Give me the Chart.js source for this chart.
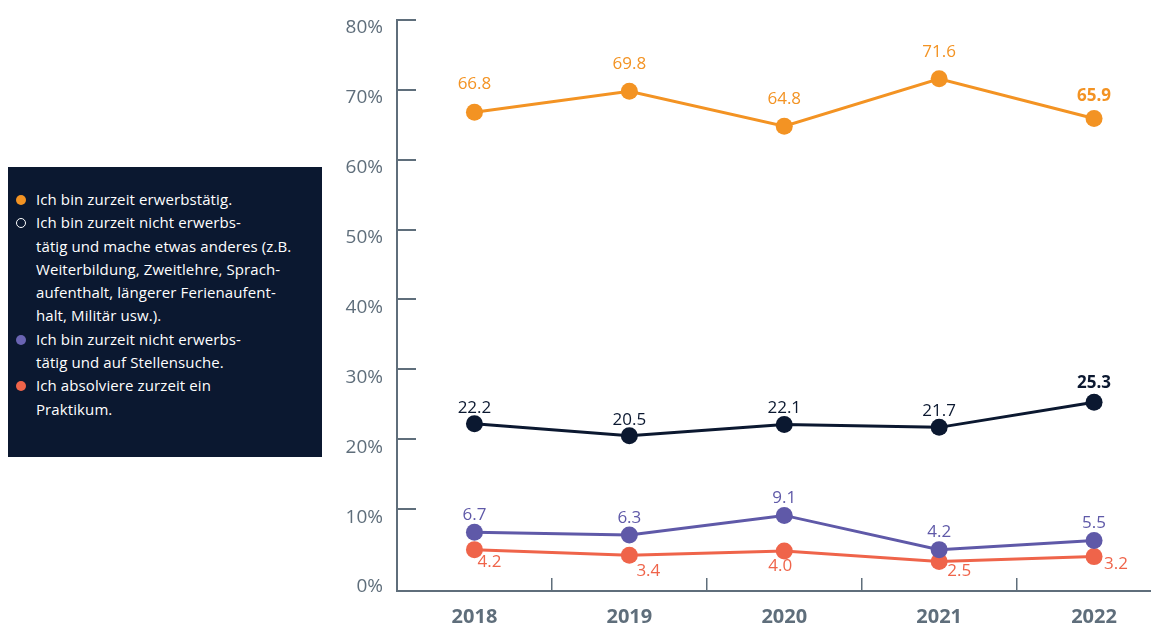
<!DOCTYPE html>
<html>
<head>
<meta charset="utf-8">
<script src="https://cdn.jsdelivr.net/npm/chart.js@4.4.1/dist/chart.umd.min.js"></script>
<style>
  html, body { margin: 0; padding: 0; background: #ffffff; overflow: hidden; width: 1151px; height: 623px; }
  #wrap { position: absolute; left: 0; top: 0; width: 1180px; height: 623px; }
  #legend {
    position: absolute; left: 8px; top: 167px; width: 314px; height: 290px;
    background: #0b1830; box-sizing: border-box; padding: 21px 0 0 0;
    font-family: "Open Sans", sans-serif; font-size: 15px; letter-spacing: 0.1px; color: #ffffff; line-height: 23.3px;
  }
  .item { position: relative; padding-left: 28px; white-space: nowrap; }
  .dot { position: absolute; left: 8px; top: 7px; width: 10px; height: 10px; border-radius: 50%; box-sizing: border-box; }
</style>
</head>
<body>
<div id="wrap"><canvas id="c" width="1180" height="623"></canvas></div>
<div id="legend"></div>
<script>
const categories = ['2018', '2019', '2020', '2021', '2022'];
const seriesNames = [
  'Ich bin zurzeit erwerbstätig.',
  'Ich bin zurzeit nicht erwerbs-<br>tätig und mache etwas anderes (z.B.<br>Weiterbildung, Zweitlehre, Sprach-<br>aufenthalt, längerer Ferienaufent-<br>halt, Militär usw.).',
  'Ich bin zurzeit nicht erwerbs-<br>tätig und auf Stellensuche.',
  'Ich absolviere zurzeit ein<br>Praktikum.'
];
const erwerbstaetig = [66.8, 69.8, 64.8, 71.6, 65.9];
const etwasAnderes = [22.2, 20.5, 22.1, 21.7, 25.3];
const stellensuche = [6.7, 6.3, 9.1, 4.2, 5.5];
const praktikum = [4.2, 3.4, 4.0, 2.5, 3.2];
const yTickValues = [0, 10, 20, 30, 40, 50, 60, 70, 80];

const colors = ['#f39323', '#0b1830', '#5f59a8', '#ef644a'];
const legendDot = [
  'background:#f39323;',
  'border:1.5px solid #ffffff;',
  'background:#6a64b3;',
  'background:#ef644a;'
];
const axisColor = '#5f6e7b';

// legend
const lg = document.getElementById('legend');
seriesNames.forEach((n, i) => {
  const d = document.createElement('div');
  d.className = 'item';
  d.innerHTML = '<span class="dot" style="' + legendDot[i] + '"></span>' + n;
  lg.appendChild(d);
});

// label placement (offsets relative to each point, per series)
const labelOffsets = [
  [[0, -28], [0, -27], [0, -27], [0, -27], [0, -22]],
  [[0, -16], [0, -16], [0, -16], [0, -16], [0, -19]],
  [[0, -17], [0, -17], [0, -17], [0, -17], [0, -17]],
  [[15, 13], [19, 16], [-4, 15], [20, 10], [22, 8]]
];
const boldLast = [true, true, false, false];

const labelPlugin = {
  id: 'valueLabels',
  afterDatasetsDraw(chart) {
    const ctx = chart.ctx;
    ctx.save();
    ctx.textAlign = 'center';
    ctx.textBaseline = 'middle';
    chart.data.datasets.forEach((ds, di) => {
      const meta = chart.getDatasetMeta(di);
      meta.data.forEach((pt, i) => {
        const bold = boldLast[di] && i === ds.data.length - 1;
        ctx.font = (bold ? '700 ' : '400 ') + '17px "Open Sans", sans-serif';
        ctx.fillStyle = colors[di];
        const o = labelOffsets[di][i];
        ctx.fillText(ds.data[i].toFixed(1), pt.x + o[0], pt.y + o[1]);
      });
    });
    ctx.restore();
  }
};

const mk = (label, data, i) => ({
  label, data,
  borderColor: colors[i], backgroundColor: colors[i],
  borderWidth: 3, pointRadius: 8.5, pointHoverRadius: 8.5,
  pointBorderWidth: 0, tension: 0
});

new Chart(document.getElementById('c'), {
  type: 'line',
  data: {
    labels: categories,
    datasets: [
      mk('erwerbstätig', erwerbstaetig, 0),
      mk('etwas anderes', etwasAnderes, 1),
      mk('Stellensuche', stellensuche, 2),
      mk('Praktikum', praktikum, 3)
    ]
  },
  options: {
    responsive: false,
    animation: false,
    events: [],
    layout: { padding: { left: 0, right: 8, top: 20, bottom: 0 } },
    plugins: { legend: { display: false }, tooltip: { enabled: false } },
    scales: {
      x: {
        offset: true,
        border: { display: true, color: axisColor, width: 2 },
        grid: {
          offset: true, drawOnChartArea: false, drawTicks: true, tickLength: -13,
          color: axisColor, lineWidth: 1.5
        },
        ticks: {
          color: axisColor, padding: 27,
          font: { family: '"Open Sans", sans-serif', size: 20, weight: '700' }
        },
        afterFit(s) { s.height = 32; s.paddingLeft = 0; s.paddingRight = 0; }
      },
      y: {
        min: -1.72, max: 80,
        afterBuildTicks(s) { s.ticks = yTickValues.map(v => ({ value: v })); },
        border: { display: true, color: axisColor, width: 2 },
        grid: {
          drawOnChartArea: false, drawTicks: true, tickLength: -19,
          color: ctx => (ctx.tick && ctx.tick.value === 0) ? 'rgba(0,0,0,0)' : axisColor,
          lineWidth: 2
        },
        ticks: {
          color: axisColor, padding: 33, labelOffset: 8,
          font: { family: '"Open Sans", sans-serif', size: 19 },
          callback: v => v + '%'
        },
        afterFit(s) { s.width = 397; s.paddingTop = 0; s.paddingBottom = 0; }
      }
    }
  },
  plugins: [labelPlugin]
});
</script>
</body>
</html>
